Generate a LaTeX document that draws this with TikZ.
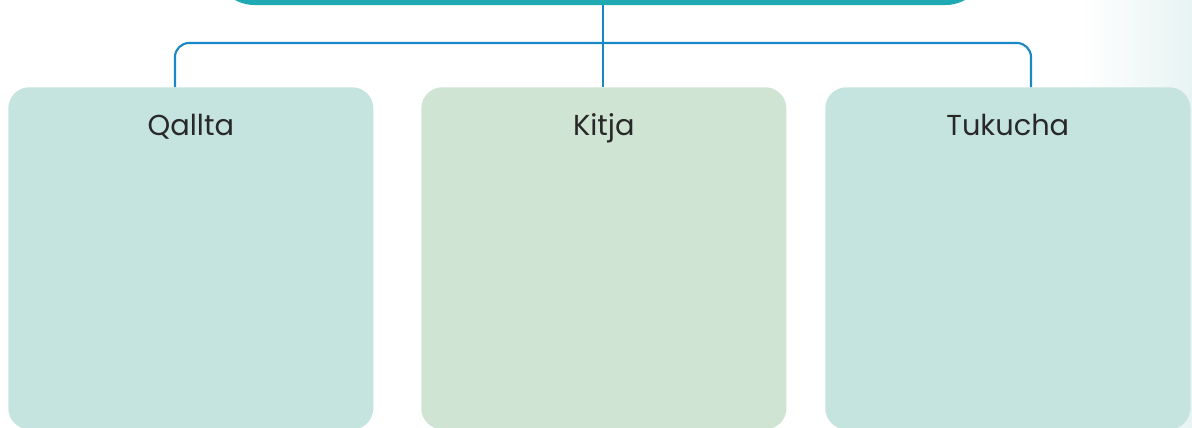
\documentclass[tikz,border=0pt]{standalone}
\usepackage{fontspec}
\setmainfont{Poppins}
\usepackage{xcolor}
\usetikzlibrary{positioning}
\definecolor{chub}{RGB}{31,169,178}
\definecolor{clink}{RGB}{26,135,198}
\definecolor{ccardA}{RGB}{197,228,223}
\definecolor{ccardB}{RGB}{207,228,211}
\definecolor{ctext}{RGB}{40,40,40}
\definecolor{cedge}{RGB}{232,243,243}
\tikzset{
  hubbox/.style={rectangle,rounded corners=28pt,fill=chub,minimum width=19.25cm,
                 minimum height=1.25cm,inner sep=0pt},
  card/.style={rectangle,rounded corners=15pt,minimum width=9.125cm,
               minimum height=8.55cm,inner sep=0pt,anchor=north west},
  cardtext/.style={font=\fontsize{20.5}{24}\selectfont,text=ctext,inner sep=0pt,
                   anchor=base},
  link/.style={clink,line width=1.5pt},
}
\begin{document}
\begin{tikzpicture}[x=0.025cm,y=-0.025cm]
  \useasboundingbox (0,0) rectangle (1192,428);
  \clip (0,0) rectangle (1192,428);
  % faint backdrop at the right edge
  \shade[left color=white,right color=cedge] (1080,0) rectangle (1192,428);
  % top box, mostly cut off
  \node[hubbox] (hub) at (600,-20) {};
  % three cards
  \node[card,fill=ccardA] (qallta) at (8,87) {};
  \node[card,fill=ccardB] (kitja) at (421,87) {};
  \node[card,fill=ccardA] (tukucha) at (825,87) {};
  \node[cardtext] at ([yshift=-1.2cm]qallta.north) {Qallta};
  \node[cardtext] at ([yshift=-1.2cm]kitja.north) {Kitja};
  \node[cardtext] at ([yshift=-1.2cm]tukucha.north) {Tukucha};
  % branches
  \coordinate (qtop) at (175,87);
  \coordinate (ttop) at (1031,87);
  \coordinate (bar) at (603,43);
  \draw[link] (hub.south -| bar) -- (bar |- kitja.north);
  \draw[link,rounded corners=10pt] (qtop) |- (bar) -| (ttop);
\end{tikzpicture}
\end{document}
